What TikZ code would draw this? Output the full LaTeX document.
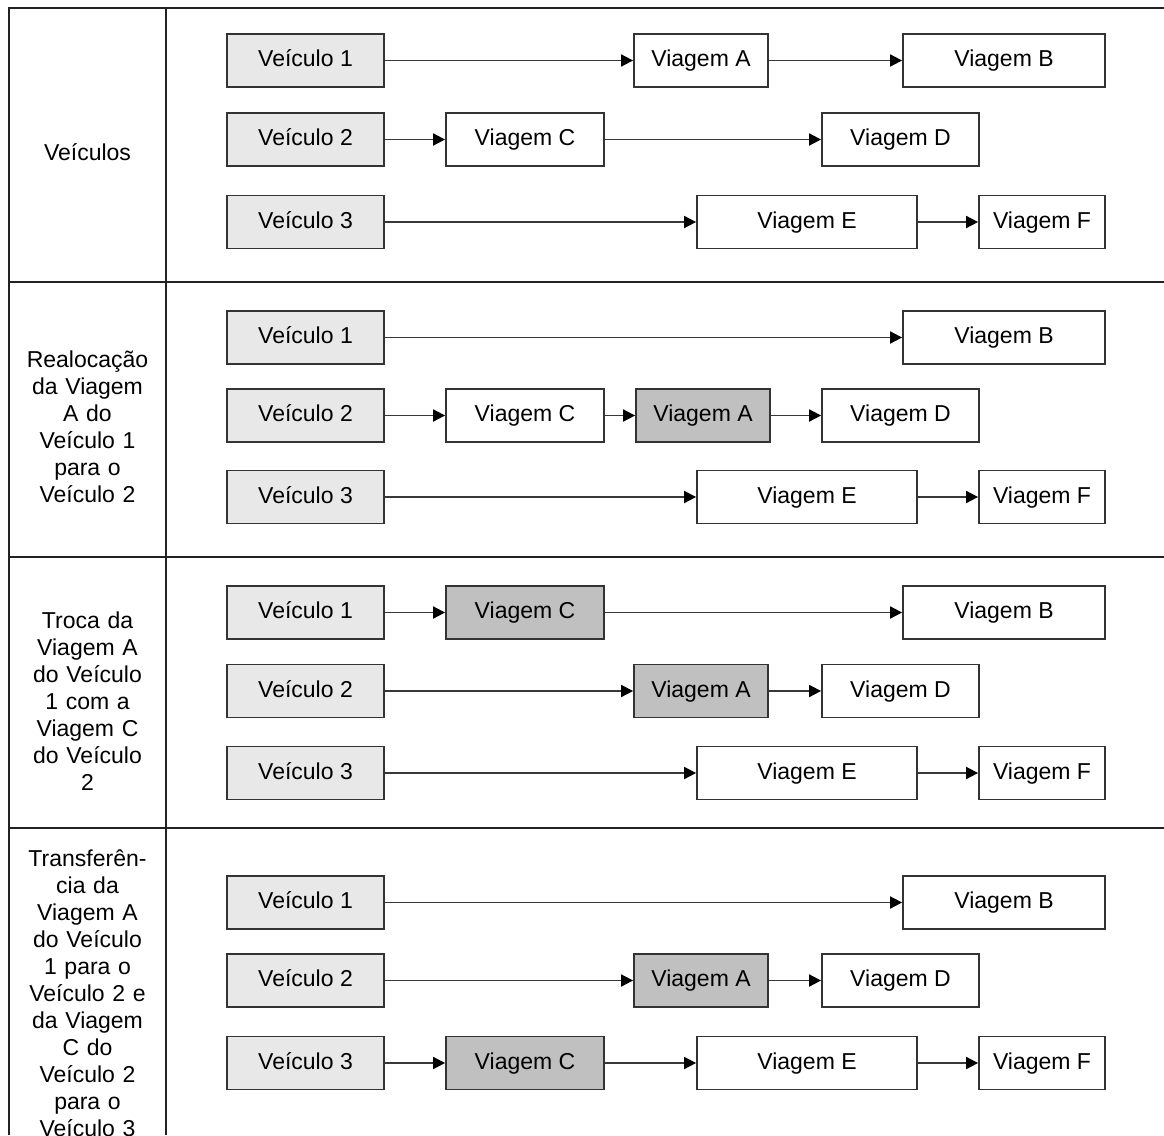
\documentclass[tikz,border=0pt]{standalone}
\usepackage{fontspec}
\setmainfont{Liberation Sans}
\usetikzlibrary{arrows.meta}
\definecolor{vehfill}{HTML}{E8E8E8}
\definecolor{hifill}{HTML}{C0C0C0}
\definecolor{boxline}{HTML}{333333}
\definecolor{arrline}{HTML}{383838}
\definecolor{gridline}{HTML}{222222}
\begin{document}
\begin{tikzpicture}[x=1pt,y=-1pt, font=\fontsize{23}{27}\selectfont,
  box/.style={draw=boxline, line width=1.8pt, minimum height=53pt, inner sep=0pt, text height=17pt, text depth=5pt, anchor=center},
  veh/.style={box, fill=vehfill, minimum width=157pt},
  trip/.style={box, fill=white},
  hi/.style={box, fill=hifill},
  wA/.style={minimum width=134pt},
  wB/.style={minimum width=202pt},
  wC/.style={minimum width=158pt},
  wD/.style={minimum width=157pt},
  wE/.style={minimum width=220pt},
  wF/.style={minimum width=126pt},
  conn/.style={draw=arrline, line width=1.8pt, -{Triangle[length=12pt,width=12pt,color=black]}},
  gridl/.style={line width=1.8pt, draw=gridline},
  lab/.style={align=center, text width=150pt, inner sep=0pt}]
\useasboundingbox (0,0) rectangle (1164,1135);
% grid
\draw[gridl] (9,1135) -- (9,8) -- (1164,8);
\draw[gridl] (166,8) -- (166,1135);
\draw[gridl] (9,282) -- (1164,282);
\draw[gridl] (9,557) -- (1164,557);
\draw[gridl] (9,828) -- (1164,828);
% left labels
\node[lab] (l1) at (87.5,152) {Veículos};
\node[lab] (l2) at (87.5,427) {Realocação\\da Viagem\\A do\\Veículo 1\\para o\\Veículo 2};
\node[lab] (l3) at (87.5,701) {Troca da\\Viagem A\\do Veículo\\1 com a\\Viagem C\\do Veículo\\2};
\node[lab] (l4) at (87.5,993) {Transferên-\\cia da\\Viagem A\\do Veículo\\1 para o\\Veículo 2 e\\da Viagem\\C do\\Veículo 2\\para o\\Veículo 3};
% section 1
\node[veh] (s1v1) at (305.5,60.5) {Veículo 1};
\node[trip,wA] (s1A) at (701,60.5) {Viagem A};
\node[trip,wB] (s1B) at (1004,60.5) {Viagem B};
\node[veh] (s1v2) at (305.5,139.5) {Veículo 2};
\node[trip,wC] (s1C) at (525,139.5) {Viagem C};
\node[trip,wD] (s1D) at (900.5,139.5) {Viagem D};
\node[veh] (s1v3) at (305.5,222) {Veículo 3};
\node[trip,wE] (s1E) at (807,222) {Viagem E};
\node[trip,wF] (s1F) at (1042,222) {Viagem F};
\draw[conn] (s1v1) -- (s1A);
\draw[conn] (s1A) -- (s1B);
\draw[conn] (s1v2) -- (s1C);
\draw[conn] (s1C) -- (s1D);
\draw[conn] (s1v3) -- (s1E);
\draw[conn] (s1E) -- (s1F);
% section 2
\node[veh] (s2v1) at (305.5,337.5) {Veículo 1};
\node[trip,wB] (s2B) at (1004,337.5) {Viagem B};
\node[veh] (s2v2) at (305.5,415.5) {Veículo 2};
\node[trip,wC] (s2C) at (525,415.5) {Viagem C};
\node[hi,wA] (s2A) at (703,415.5) {Viagem A};
\node[trip,wD] (s2D) at (900.5,415.5) {Viagem D};
\node[veh] (s2v3) at (305.5,497) {Veículo 3};
\node[trip,wE] (s2E) at (807,497) {Viagem E};
\node[trip,wF] (s2F) at (1042,497) {Viagem F};
\draw[conn] (s2v1) -- (s2B);
\draw[conn] (s2v2) -- (s2C);
\draw[conn] (s2C) -- (s2A);
\draw[conn] (s2A) -- (s2D);
\draw[conn] (s2v3) -- (s2E);
\draw[conn] (s2E) -- (s2F);
% section 3
\node[veh] (s3v1) at (305.5,612.5) {Veículo 1};
\node[hi,wC] (s3C) at (525,612.5) {Viagem C};
\node[trip,wB] (s3B) at (1004,612.5) {Viagem B};
\node[veh] (s3v2) at (305.5,691) {Veículo 2};
\node[hi,wA] (s3A) at (701,691) {Viagem A};
\node[trip,wD] (s3D) at (900.5,691) {Viagem D};
\node[veh] (s3v3) at (305.5,773) {Veículo 3};
\node[trip,wE] (s3E) at (807,773) {Viagem E};
\node[trip,wF] (s3F) at (1042,773) {Viagem F};
\draw[conn] (s3v1) -- (s3C);
\draw[conn] (s3C) -- (s3B);
\draw[conn] (s3v2) -- (s3A);
\draw[conn] (s3A) -- (s3D);
\draw[conn] (s3v3) -- (s3E);
\draw[conn] (s3E) -- (s3F);
% section 4
\node[veh] (s4v1) at (305.5,902.5) {Veículo 1};
\node[trip,wB] (s4B) at (1004,902.5) {Viagem B};
\node[veh] (s4v2) at (305.5,980.5) {Veículo 2};
\node[hi,wA] (s4A) at (701,980.5) {Viagem A};
\node[trip,wD] (s4D) at (900.5,980.5) {Viagem D};
\node[veh] (s4v3) at (305.5,1063) {Veículo 3};
\node[hi,wC] (s4C) at (525,1063) {Viagem C};
\node[trip,wE] (s4E) at (807,1063) {Viagem E};
\node[trip,wF] (s4F) at (1042,1063) {Viagem F};
\draw[conn] (s4v1) -- (s4B);
\draw[conn] (s4v2) -- (s4A);
\draw[conn] (s4A) -- (s4D);
\draw[conn] (s4v3) -- (s4C);
\draw[conn] (s4C) -- (s4E);
\draw[conn] (s4E) -- (s4F);
\end{tikzpicture}
\end{document}
